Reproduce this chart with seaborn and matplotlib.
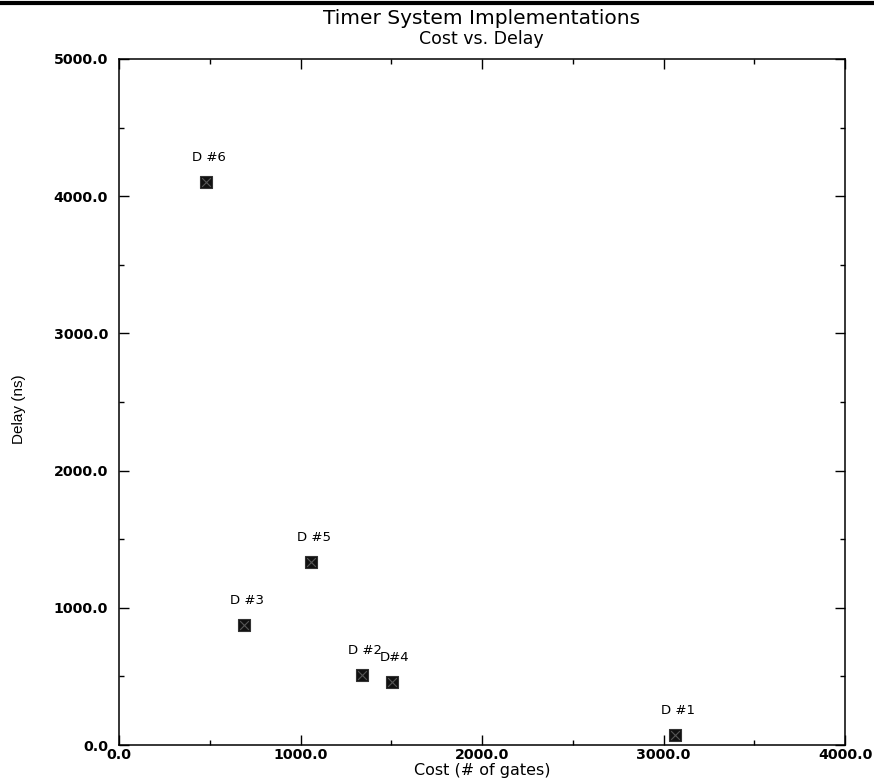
import matplotlib
matplotlib.use("Agg")
import matplotlib.pyplot as plt
from matplotlib.lines import Line2D
from matplotlib.ticker import MultipleLocator, FormatStrFormatter
import seaborn as sns
import pandas as pd

# Design points: gate count vs. delay
designs = ["D #1", "D #2", "D #3", "D#4", "D #5", "D #6"]
cost_gates = [3065, 1340, 690, 1505, 1060, 480]
delay_ns = [70, 510, 875, 460, 1335, 4100]

df = pd.DataFrame({"design": designs, "cost": cost_gates, "delay": delay_ns})

sns.set_theme(style="white")
plt.rcParams["font.family"] = ["DejaVu Sans"]
plt.rcParams["text.color"] = "black"
plt.rcParams["axes.labelcolor"] = "black"
plt.rcParams["xtick.color"] = "black"
plt.rcParams["ytick.color"] = "black"

fig = plt.figure(figsize=(8.74, 7.82), dpi=100)
ax = fig.add_axes([0.1362, 0.0473, 0.8307, 0.8773])

sns.scatterplot(data=df, x="cost", y="delay", ax=ax, marker="s", s=65,
                color="#111111", edgecolor="#333333", linewidth=0.8, legend=False)
sns.scatterplot(data=df, x="cost", y="delay", ax=ax, marker="x", s=40,
                color="#555555", linewidth=0.8, legend=False)

for name, cx, cy in zip(designs, cost_gates, delay_ns):
    ax.annotate(name, (cx, cy), xytext=(2, 13), textcoords="offset points",
                ha="center", va="bottom", fontsize=9.5, color="black")

ax.set_xlim(0, 4000)
ax.set_ylim(0, 5000)
ax.xaxis.set_major_locator(MultipleLocator(1000))
ax.xaxis.set_minor_locator(MultipleLocator(500))
ax.yaxis.set_major_locator(MultipleLocator(1000))
ax.yaxis.set_minor_locator(MultipleLocator(500))
ax.xaxis.set_major_formatter(FormatStrFormatter("%.1f"))
ax.yaxis.set_major_formatter(FormatStrFormatter("%.1f"))

ax.tick_params(which="both", direction="in", top=True, right=True,
               bottom=True, left=True, color="black", width=1.0)
ax.tick_params(which="major", length=7, labelsize=10.2)
ax.tick_params(which="minor", length=3.5)
ax.tick_params(axis="x", which="major", pad=2.5)
ax.tick_params(axis="y", which="major", pad=8)
for lab in ax.get_xticklabels() + ax.get_yticklabels():
    lab.set_fontweight("bold")

for sp in ax.spines.values():
    sp.set_color("black")
    sp.set_linewidth(1.1)

ax.set_xlabel("Cost (# of gates)", fontsize=11.5, labelpad=0.5)
ax.set_ylabel("Delay (ns)", fontsize=11,
              family=["Liberation Sans Narrow", "Liberation Sans", "DejaVu Sans"])
ax.yaxis.set_label_coords(-0.128, 0.49)

fig.text(0.551, 0.976, "Timer System Implementations", ha="center", va="center", fontsize=14.5)
fig.text(0.551, 0.950, "Cost vs. Delay", ha="center", va="center", fontsize=12.5)

# heavy rule across the top of the page
fig.add_artist(Line2D([0, 1], [0.996, 0.996], transform=fig.transFigure,
                      color="black", linewidth=3))

fig.savefig("out.png", dpi=100, facecolor="white")
